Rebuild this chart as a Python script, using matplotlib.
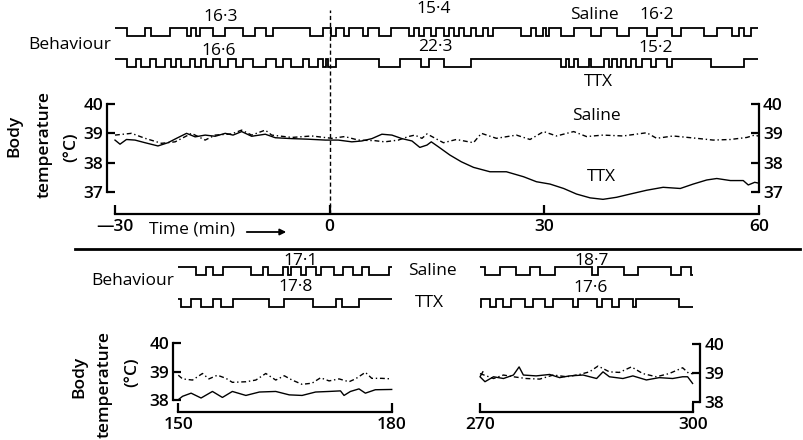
import matplotlib
matplotlib.use("Agg")
import matplotlib.pyplot as plt
from matplotlib.lines import Line2D

plt.rcParams['font.family'] = ['Open Sans', 'DejaVu Sans']

# ---- behaviour records: start state (1 = up) and switch times (min) ----
top_saline_start = 1
top_saline_switch = [-28.3, -25.8, -24.9, -22.3, -19.9, -19.3, -18.7, -18.1, -16.3, -14.6,
                     -12.1, -10.4, -8.8, -7.9, -2.7, -0.9, 0.3, 1.0, 2.1, 2.8, 4.7, 5.4,
                     7.0, 8.7, 11.2, 11.9, 12.6, 13.3, 14.3, 15.0, 16.1, 16.8, 17.5, 18.2,
                     18.9, 19.8, 20.5, 21.5, 22.2, 22.9, 26.8, 28.2, 28.9, 29.9, 30.3, 30.8,
                     32.4, 34.3, 36.6, 38.0, 40.3, 42.0, 44.5, 45.9, 48.0, 49.2, 52.5, 54.3,
                     56.4, 57.3, 58.0, 59.0]
top_ttx_start = 1
top_ttx_switch = [-28.3, -27.0, -26.3, -25.1, -24.2, -23.0, -22.1, -21.4, -20.7, -19.5,
                  -18.8, -17.9, -17.2, -16.3, -15.3, -14.2, -13.0, -12.1, -10.7, -8.8,
                  -7.4, -6.5, -5.3, -3.7, -2.8, -1.6, -0.9, -0.4, -0.2, 1.0, 7.0, 9.9,
                  12.8, 14.0, 16.1, 19.8, 32.4, 33.1, 33.6, 34.3, 34.8, 36.4, 36.6, 38.5,
                  39.2, 39.6, 40.3, 40.8, 41.5, 42.2, 42.9, 43.8, 45.0, 45.7, 47.3, 48.0,
                  53.4, 58.0]
bl_saline_start = 1
bl_saline_switch = [152.5, 153.9, 154.9, 156.3, 160.2, 161.9, 162.6, 164.7, 165.4, 165.8,
                    167.2, 167.9, 169.3, 170.0, 171.9, 173.1, 174.5, 175.8, 176.8, 179.6]
bl_ttx_start = 1
bl_ttx_switch = [150.4, 151.8, 153.2, 154.9, 156.0, 157.7, 162.8, 164.9, 168.9, 172.1,
                 173.0, 175.4]
br_saline_start = 1
br_saline_switch = [270.7, 272.8, 275.1, 277.0, 278.4, 280.5, 285.7, 286.6, 290.3, 292.2,
                    296.9, 298.3, 299.7]
br_ttx_start = 0
br_ttx_switch = [270.2, 271.4, 272.2, 273.3, 274.4, 276.3, 277.5, 279.1, 280.3, 283.1,
                 283.8, 286.4, 287.1, 288.5, 289.6, 291.5, 292.0, 298.0]

# ---- body temperature (deg C) ----
top_ttx_time = [-30.0, -29.3, -28.4, -27.2, -25.8, -24.0, -22.6, -21.4, -20.0, -18.8, -17.4,
                -16.0, -14.6, -13.5, -12.3, -10.9, -9.0, -7.6, -5.3, -3.0, -0.6, 1.2, 3.1,
                4.5, 5.9, 7.3, 8.7, 10.1, 11.5, 12.6, 13.6, 14.2, 15.2, 16.8, 18.4, 20.1,
                22.4, 24.7, 27.1, 28.9, 30.8, 32.7, 34.5, 36.4, 38.2, 40.1, 42.0, 44.3,
                46.6, 49.0, 50.8, 52.7, 54.1, 56.0, 57.8, 58.5, 59.4, 60.0]
top_ttx_temp = [38.77, 38.63, 38.79, 38.77, 38.68, 38.57, 38.68, 38.83, 39.0, 38.88, 38.94,
                38.9, 39.0, 38.94, 39.06, 38.9, 38.97, 38.85, 38.82, 38.8, 38.77, 38.77,
                38.71, 38.74, 38.82, 38.97, 38.94, 38.82, 38.74, 38.52, 38.6, 38.71, 38.54,
                38.26, 38.03, 37.84, 37.69, 37.69, 37.52, 37.35, 37.27, 37.12, 36.93, 36.8,
                36.75, 36.82, 36.93, 37.06, 37.16, 37.12, 37.27, 37.41, 37.46, 37.39, 37.39,
                37.24, 37.33, 37.3]
top_saline_time = [-30.0, -27.7, -25.8, -23.5, -21.6, -19.3, -17.4, -16.0, -13.7, -12.3,
                   -10.9, -9.0, -8.1, -5.3, -2.5, 0.3, 2.1, 4.0, 6.3, 7.7, 9.6, 11.0, 11.9,
                   12.9, 13.6, 15.9, 17.7, 20.1, 21.2, 23.3, 26.1, 28.0, 29.9, 31.7, 34.1,
                   35.9, 38.2, 41.0, 44.3, 45.7, 48.0, 51.3, 53.6, 56.0, 58.3, 59.4, 60.0]
top_saline_temp = [38.94, 39.0, 38.83, 38.66, 38.71, 39.0, 38.77, 38.94, 38.98, 39.11, 38.94,
                   39.11, 38.94, 38.86, 38.91, 38.83, 38.89, 38.77, 38.75, 38.71, 38.77,
                   38.89, 38.94, 38.83, 38.98, 38.68, 38.79, 38.68, 39.0, 38.83, 38.94,
                   38.79, 39.06, 38.91, 39.06, 38.89, 38.94, 38.91, 39.02, 38.83, 38.91,
                   38.83, 38.77, 38.79, 38.86, 38.94, 38.9]
bl_ttx_time = [150.0, 150.6, 151.8, 153.2, 154.8, 156.2, 157.6, 159.5, 161.4, 163.7, 165.6,
               167.4, 169.3, 171.2, 172.8, 173.3, 174.2, 175.4, 176.3, 177.7, 180.0]
bl_ttx_temp = [38.01, 38.13, 38.24, 38.07, 38.3, 38.09, 38.3, 38.16, 38.28, 38.3, 38.18,
               38.16, 38.28, 38.3, 38.32, 38.16, 38.3, 38.39, 38.24, 38.36, 38.37]
bl_saline_time = [150.0, 150.6, 152.0, 153.4, 154.3, 155.5, 156.7, 157.6, 159.5, 160.9,
                  162.3, 163.7, 164.9, 166.0, 167.4, 168.8, 170.0, 171.2, 172.6, 174.0,
                  174.9, 176.3, 177.2, 178.6, 180.0]
bl_saline_temp = [38.87, 38.74, 38.70, 38.93, 38.74, 38.87, 38.76, 38.62, 38.64, 38.70,
                  38.93, 38.70, 38.85, 38.70, 38.55, 38.59, 38.78, 38.67, 38.74, 38.64,
                  38.74, 38.97, 38.76, 38.76, 38.74]
br_ttx_time = [270.4, 270.0, 270.7, 271.9, 273.3, 274.7, 275.5, 276.1, 277.9, 279.8, 281.2,
               282.6, 284.5, 286.4, 287.3, 288.2, 290.1, 291.5, 293.4, 295.2, 297.1, 298.5,
               299.2, 299.9]
br_ttx_temp = [39.04, 38.87, 38.7, 38.87, 38.81, 38.93, 39.21, 38.93, 38.9, 38.95, 38.84,
               38.9, 38.93, 38.81, 39.04, 38.87, 38.81, 38.9, 38.76, 38.84, 38.81, 38.87,
               38.87, 38.64]
br_saline_time = [270.0, 271.9, 273.3, 274.7, 276.5, 278.4, 280.3, 282.2, 284.0, 285.4,
                  286.6, 288.2, 289.6, 291.3, 292.9, 294.8, 296.6, 298.5, 299.4, 300.0]
br_saline_temp = [38.98, 38.81, 38.93, 38.87, 38.81, 38.79, 38.93, 38.87, 38.95, 39.04,
                  39.24, 39.04, 39.02, 39.21, 38.98, 38.87, 38.98, 39.18, 38.98, 38.98]

W, H = 804, 440
fig = plt.figure(figsize=(W / 100, H / 100), dpi=100)

def px_axes(left, top, right, bottom):
    return fig.add_axes([left / W, 1 - bottom / H, (right - left) / W, (bottom - top) / H])

def pt(px):
    return px * 0.72

SAL_LS = (0, (3.5, 2, 1, 2))
TXT = 12.5
TICK_FS = 12.5

def behaviour(ax, start, switches, base, x0, x1):
    xs = [x0] + switches + [x1]
    states = [start]
    for _ in switches:
        states.append(1 - states[-1])
    ys = [base + s for s in states] + [base + states[-1]]
    ax.step(xs, ys, where='post', color='black', lw=1.3, solid_joinstyle='miter')

def beh_axes(left, top, right, bottom, x0, x1, ymax):
    ax = px_axes(left, top, right, bottom)
    ax.set_xlim(x0, x1)
    ax.set_ylim(0, ymax)
    ax.axis('off')
    return ax

def temp_axes(left, top, right, bottom, x0, x1, y0, y1, side, yout, xout):
    ax = px_axes(left, top, right, bottom)
    ax.set_xlim(x0, x1)
    ax.set_ylim(y0, y1)
    ax.patch.set_visible(False)
    for s in ['top', 'left', 'right']:
        ax.spines[s].set_visible(False)
    ax.spines[side].set_visible(True)
    ax.spines[side].set_position(('outward', pt(yout)))
    ax.spines[side].set_bounds(y0, y1)
    ax.spines[side].set_linewidth(1.6)
    ax.spines['bottom'].set_position(('outward', pt(xout)))
    ax.spines['bottom'].set_bounds(x0, x1)
    ax.spines['bottom'].set_linewidth(1.6)
    if side == 'right':
        ax.yaxis.tick_right()
    ax.tick_params(axis='y', direction='in', length=pt(8), width=1.6, pad=pt(4),
                   labelsize=TICK_FS)
    ax.tick_params(axis='x', direction='in', length=pt(9), width=1.6, pad=pt(5),
                   labelsize=TICK_FS)
    return ax

def temp_lines(ax, ts, vs, tt_, vt):
    ax.plot(ts, vs, color='black', lw=1.0, ls=SAL_LS, clip_on=False)
    ax.plot(tt_, vt, color='black', lw=1.0, clip_on=False)

# ---------------- top panel ----------------
bt = beh_axes(115, 20, 758, 75, -30, 60, 7.33)
behaviour(bt, top_saline_start, top_saline_switch, 5.2, -30, 60)
behaviour(bt, top_ttx_start, top_ttx_switch, 1.07, -30, 60)

tt = temp_axes(115, 104, 759, 192, -30, 60, 37, 40, 'left', 8, 22)
tt.spines['right'].set_visible(True)
tt.spines['right'].set_bounds(37, 40)
tt.spines['right'].set_linewidth(1.6)
tt.tick_params(axis='y', which='both', left=True, right=True, labelleft=True,
               labelright=True)
tt.set_yticks([37, 38, 39, 40])
tt.set_yticklabels(['37', '38', '39', '40'], fontweight='semibold')
tt.set_xticks([-30, 0, 30, 60])
tt.set_xticklabels(['\u201430', '0', '30', '60'], fontweight='semibold')
temp_lines(tt, top_saline_time, top_saline_temp, top_ttx_time, top_ttx_temp)
tt.axvline(0, ymin=-0.25, ymax=2.07, color='black', lw=1.0, ls=(0, (3, 2)), clip_on=False)

# ---------------- bottom panels ----------------
bbl = beh_axes(178.3, 258, 391.7, 312, 150, 180, 6.75)
behaviour(bbl, bl_saline_start, bl_saline_switch, 4.6, 150, 180)
behaviour(bbl, bl_ttx_start, bl_ttx_switch, 0.62, 150, 180)
bbr = beh_axes(480, 258, 693.3, 312, 270, 300, 6.75)
behaviour(bbr, br_saline_start, br_saline_switch, 4.6, 270, 300)
behaviour(bbr, br_ttx_start, br_ttx_switch, 0.62, 270, 300)

tl = temp_axes(178.3, 343, 391.7, 400, 150, 180, 38, 40, 'left', 5, 12)
tl.set_yticks([38, 39, 40])
tl.set_yticklabels(['38', '39', '40'], fontweight='semibold')
tl.set_xticks([150, 180])
tl.set_xticklabels(['150', '180'], fontweight='semibold')
temp_lines(tl, bl_saline_time, bl_saline_temp, bl_ttx_time, bl_ttx_temp)

tr = temp_axes(480, 344, 693.3, 402, 270, 300, 38, 40, 'right', 7, 10)
tr.set_yticks([38, 39, 40])
tr.set_yticklabels(['38', '39', '40'], fontweight='semibold')
tr.set_xticks([270, 300])
tr.set_xticklabels(['270', '300'], fontweight='semibold')
temp_lines(tr, br_saline_time, br_saline_temp, br_ttx_time, br_ttx_temp)

# ---------------- text overlay ----------------
ov = fig.add_axes([0, 0, 1, 1], zorder=-1)
ov.set_xlim(0, W)
ov.set_ylim(H, 0)
ov.axis('off')

def t(x, y, s, **kw):
    ov.text(x, y, s, ha='center', va='center', fontsize=kw.pop('fs', TXT), **kw)

t(70, 45, 'Behaviour')
t(221, 17, '16\u00b73')
t(219, 51, '16\u00b76')
t(434, 9, '15\u00b74')
t(435, 47, '22\u00b73')
t(594, 15, 'Saline')
t(657, 15, '16\u00b72')
t(656, 48, '15\u00b72')
t(598, 82, 'TTX')
t(596, 116, 'Saline')
t(601, 177, 'TTX')
t(192, 230, 'Time (min)')
ov.annotate('', xy=(289, 232), xytext=(244, 232),
            arrowprops=dict(arrowstyle='-|>', color='black', lw=1.3,
                            mutation_scale=9))
t(14.5, 136, 'Body', rotation=90, fontweight='semibold', fs=12.5)
t(45, 144, 'temperature', rotation=90, fontweight='semibold', fs=12.5)
t(71.5, 147, '(\u00b0C)', rotation=90, fontweight='semibold', fs=12.5)

t(133, 281, 'Behaviour')
t(301, 261, '17\u00b71')
t(296, 287, '17\u00b78')
t(432, 271, 'Saline')
t(429, 303, 'TTX')
t(592, 261, '18\u00b77')
t(591, 288, '17\u00b76')
t(79.5, 377, 'Body', rotation=90, fontweight='semibold', fs=12.5)
t(105, 385, 'temperature', rotation=90, fontweight='semibold', fs=12.5)
t(132, 372, '(\u00b0C)', rotation=90, fontweight='semibold', fs=12.5)

fig.add_artist(Line2D([75 / W, 800 / W], [1 - 249 / H, 1 - 249 / H],
                      color='black', lw=2.0))

fig.savefig('out.png', dpi=100)
